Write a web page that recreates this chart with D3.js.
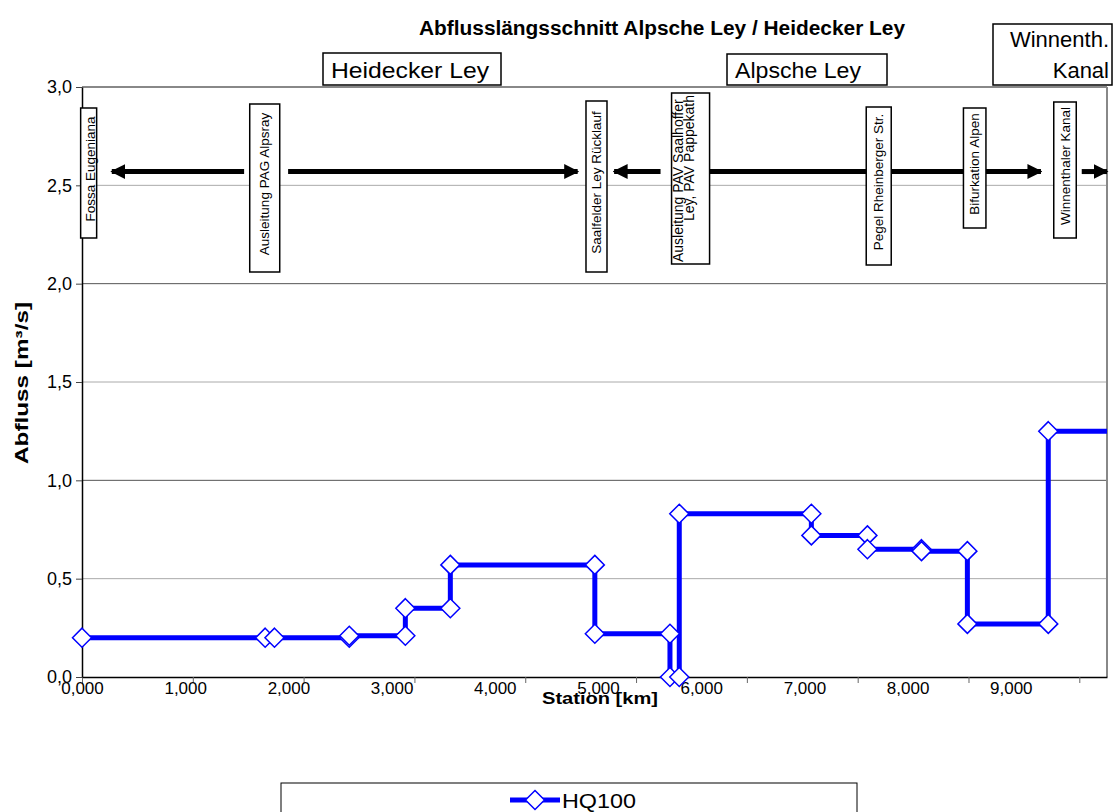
<!DOCTYPE html>
<html>
<head>
<meta charset="utf-8">
<script src="https://cdn.jsdelivr.net/npm/d3@7"></script>
<style>
  body { margin: 0; background: #fff; }
  text { font-family: "Liberation Sans", Arial, sans-serif; }
</style>
</head>
<body>
<div id="chart-area"></div>
<script>
// HQ100 Abflusslaengsschnitt (Station in km, Abfluss in m3/s)
const stationKm = [0, 1.653, 1.737, 2.412, 2.412, 2.918, 2.918, 3.324, 3.324, 4.628, 4.628,
    5.306, 5.306, 5.39, 5.39, 6.582, 6.582, 7.088, 7.088, 7.576, 7.576, 7.99, 7.99, 8.72, 8.72, 9.6];
const hq100 = [0.20, 0.20, 0.20, 0.20, 0.21, 0.21, 0.35, 0.35, 0.57, 0.57, 0.22,
    0.22, 0.00, 0.00, 0.83, 0.83, 0.72, 0.72, 0.65, 0.65, 0.64, 0.64, 0.27, 0.27, 1.25, 1.25];

const xTicks = [0, 1, 2, 3, 4, 5, 6, 7, 8, 9];
const yTicks = [0, 0.5, 1.0, 1.5, 2.0, 2.5, 3.0];

// Bauwerke / Punkte entlang der Ley
const markNames = ["Fossa Eugeniana", "Ausleitung PAG Alpsray", "Saalfelder Ley Rücklauf",
    "Ausleitung PAV Saalhoffer|Ley, PAV Pappekath", "Pegel Rheinberger Str.", "Bifurkation Alpen", "Winnenthaler Kanal"];
const markKm = [0.06, 1.649, 4.643, 5.492, 7.19, 8.056, 8.871];

// Fliessrichtung (Pfeile), von -> nach in km
const flowFrom = [1.463, 1.86, 5.221, 5.664, 9.022];
const flowTo = [0.269, 4.473, 4.802, 8.654, 9.25];
const flowLevel = 2.57;

// Gewaesserabschnitte oben
const reachNames = [["Heidecker Ley"], ["Alpsche Ley"], ["Winnenth.", "Kanal"]];

// layout
const W = 1116, H = 812;
const plotLeft = 82, plotRight = 1107, plotTop = 87, plotBottom = 677;
const markBoxW = [16, 30, 21, 38, 25, 22.5, 22.5];
const markBoxTop = [108, 104, 101, 93, 107, 108, 102];
const markBoxBottom = [238, 272, 272, 264, 265, 228, 238];
const reachBox = [{x0: 323, x1: 501, y0: 53, y1: 85, align: "start", len: 158},
                  {x0: 727, x1: 887, y0: 54, y1: 85, align: "start", len: 126},
                  {x0: 993, x1: 1112, y0: 24, y1: 85, align: "end", len: 0}];

const svg = d3.select("#chart-area").append("svg")
    .attr("width", W)
    .attr("height", H);

const x = d3.scaleLinear()
    .domain([0, 9.25])
    .range([plotLeft, plotRight]);

// the tick labels of the original sit on a slightly tighter spacing than the tick marks
const xLabel = d3.scaleLinear()
    .domain([0, 9])
    .range([plotLeft, plotLeft + 9 * 103.2]);

const y = d3.scaleLinear()
    .domain([0, 3])
    .range([plotBottom, plotTop]);

const comma = f => (v => d3.format(f)(v).replace(".", ","));

// gridlines
svg.append("g")
    .selectAll("line")
    .data(yTicks.filter(d => d > 0))
    .enter().append("line")
    .attr("x1", plotLeft).attr("x2", plotRight)
    .attr("y1", d => y(d)).attr("y2", d => y(d))
    .attr("stroke", d => d === 3 ? "#888" : (d % 1 === 0 ? "#555" : "#aaa"))
    .attr("stroke-width", d => d === 3 ? 2 : 1);

// right border
svg.append("line")
    .attr("x1", plotRight).attr("x2", plotRight)
    .attr("y1", plotTop).attr("y2", plotBottom)
    .attr("stroke", "#888").attr("stroke-width", 2);

// axes
const xAxis = svg.append("g")
    .attr("transform", `translate(0, ${plotBottom})`)
    .call(d3.axisBottom(x).tickValues(xTicks).tickFormat("").tickSize(6).tickSizeOuter(0));
xAxis.select(".domain").attr("stroke", "#000").attr("stroke-width", 1.5);
xAxis.selectAll(".tick line").attr("stroke", "#666");

const xLabels = svg.append("g")
    .attr("transform", `translate(0, ${plotBottom})`)
    .call(d3.axisBottom(xLabel).tickValues(xTicks).tickFormat(comma(".3f")).tickSize(0).tickPadding(5));
xLabels.select(".domain").remove();
xLabels.selectAll("text").attr("font-size", "17px").attr("fill", "#000")
    .style("font-family", "'Liberation Sans', Arial, sans-serif");

const yAxis = svg.append("g")
    .attr("transform", `translate(${plotLeft}, 0)`)
    .call(d3.axisLeft(y).tickValues(yTicks).tickFormat(comma(".1f")).tickSize(6).tickSizeOuter(0).tickPadding(4));
yAxis.select(".domain").attr("stroke", "#000").attr("stroke-width", 1.5);
yAxis.selectAll(".tick line").attr("stroke", "#444");
yAxis.selectAll("text").attr("font-size", "18px").attr("fill", "#000")
    .style("font-family", "'Liberation Sans', Arial, sans-serif");

// titles
svg.append("text")
    .attr("x", 662).attr("y", 35)
    .attr("text-anchor", "middle")
    .attr("font-size", "20px").attr("font-weight", "bold")
    .attr("textLength", 486).attr("lengthAdjust", "spacingAndGlyphs")
    .text("Abflusslängsschnitt Alpsche Ley / Heidecker Ley");

svg.append("text")
    .attr("x", 600).attr("y", 704)
    .attr("text-anchor", "middle")
    .attr("font-size", "17px").attr("font-weight", "bold")
    .attr("textLength", 116).attr("lengthAdjust", "spacingAndGlyphs")
    .text("Station [km]");

svg.append("text")
    .attr("transform", "translate(28, 383) rotate(-90)")
    .attr("text-anchor", "middle")
    .attr("font-size", "18px").attr("font-weight", "bold")
    .attr("textLength", 162).attr("lengthAdjust", "spacingAndGlyphs")
    .text("Abfluss [m³/s]");

// flow arrows
svg.append("defs").append("marker")
    .attr("id", "head")
    .attr("viewBox", "0 0 10 10")
    .attr("refX", 9).attr("refY", 5)
    .attr("markerWidth", 3).attr("markerHeight", 3.4)
    .attr("markerUnits", "strokeWidth")
    .attr("orient", "auto")
    .append("path").attr("d", "M0,0 L10,5 L0,10 Z").attr("fill", "#000");

svg.append("g")
    .selectAll("line")
    .data(flowFrom)
    .enter().append("line")
    .attr("x1", d => x(d))
    .attr("x2", (d, i) => x(flowTo[i]))
    .attr("y1", y(flowLevel)).attr("y2", y(flowLevel))
    .attr("stroke", "#000").attr("stroke-width", 5)
    .attr("marker-end", "url(#head)");

// vertical label boxes
const marks = svg.append("g").selectAll("g")
    .data(markNames)
    .enter().append("g");

marks.append("rect")
    .attr("x", (d, i) => x(markKm[i]) - markBoxW[i] / 2)
    .attr("y", (d, i) => markBoxTop[i])
    .attr("width", (d, i) => markBoxW[i])
    .attr("height", (d, i) => markBoxBottom[i] - markBoxTop[i])
    .attr("fill", "#fff").attr("stroke", "#000").attr("stroke-width", 1.5);

marks.each(function(d, i) {
    const g = d3.select(this);
    const cx = x(markKm[i]);
    const lines = d.split("|");
    if (lines.length === 1) {
        g.append("text")
            .attr("transform", `translate(${cx + (i === 0 ? 2 : 0)}, ${(markBoxTop[i] + markBoxBottom[i]) / 2 - 4}) rotate(-90)`)
            .attr("text-anchor", "middle")
            .attr("dy", "0.35em")
            .attr("font-size", "13.5px")
            .text(d);
    } else {
        g.append("text")
            .attr("transform", `translate(${cx - 12}, ${markBoxBottom[i] - 2}) rotate(-90)`)
            .attr("text-anchor", "start")
            .attr("dy", "0.35em")
            .attr("font-size", "14px")
            .text(lines[0]);
        g.append("text")
            .attr("transform", `translate(${cx - 1.5}, ${markBoxTop[i] + 2}) rotate(-90)`)
            .attr("text-anchor", "end")
            .attr("dy", "0.35em")
            .attr("font-size", "14px")
            .text(lines[1]);
    }
});

// reach boxes above the plot
reachBox.forEach((b, i) => {
    svg.append("rect")
        .attr("x", b.x0).attr("y", b.y0)
        .attr("width", b.x1 - b.x0).attr("height", b.y1 - b.y0)
        .attr("fill", "#fff").attr("stroke", "#000").attr("stroke-width", 1.5);
    const t = svg.append("text")
        .attr("text-anchor", b.align)
        .attr("font-size", "22px");
    reachNames[i].forEach((s, j) => {
        const ts = t.append("tspan")
            .attr("x", b.align === "start" ? b.x0 + 8 : b.x1 - 3)
            .attr("y", b.y1 - 7 - (reachNames[i].length - 1 - j) * 31)
            .text(s);
        if (b.len) ts.attr("textLength", b.len).attr("lengthAdjust", "spacingAndGlyphs");
    });
});

// data series
const pts = stationKm.map((s, i) => ({s: s, q: hq100[i]}));

svg.append("clipPath").attr("id", "plotClip")
    .append("rect")
    .attr("x", plotLeft).attr("y", 0)
    .attr("width", plotRight - plotLeft).attr("height", H);

svg.append("path")
    .datum(pts)
    .attr("clip-path", "url(#plotClip)")
    .attr("fill", "none")
    .attr("stroke", "#0000ff")
    .attr("stroke-width", 5)
    .attr("d", d3.line().x(d => x(d.s)).y(d => y(d.q)));

const diamond = "M0,-9.5 L9.5,0 L0,9.5 L-9.5,0 Z";

svg.append("g")
    .selectAll("path")
    .data(pts.filter(d => d.s <= x.domain()[1]))
    .enter().append("path")
    .attr("transform", d => `translate(${x(d.s)}, ${y(d.q)})`)
    .attr("d", diamond)
    .attr("fill", "#fff")
    .attr("stroke", "#0000ff")
    .attr("stroke-width", 1.5);

// legend
svg.append("rect")
    .attr("x", 281).attr("y", 783)
    .attr("width", 576).attr("height", 60)
    .attr("fill", "#fff").attr("stroke", "#000").attr("stroke-width", 1);

svg.append("line")
    .attr("x1", 510).attr("x2", 560)
    .attr("y1", 800).attr("y2", 800)
    .attr("stroke", "#0000ff").attr("stroke-width", 5);
svg.append("path")
    .attr("transform", "translate(535, 800)")
    .attr("d", diamond)
    .attr("fill", "#fff").attr("stroke", "#0000ff").attr("stroke-width", 1.5);
svg.append("text")
    .attr("x", 562).attr("y", 808)
    .attr("font-size", "21px")
    .attr("textLength", 74).attr("lengthAdjust", "spacingAndGlyphs")
    .text("HQ100");
</script>
</body>
</html>
